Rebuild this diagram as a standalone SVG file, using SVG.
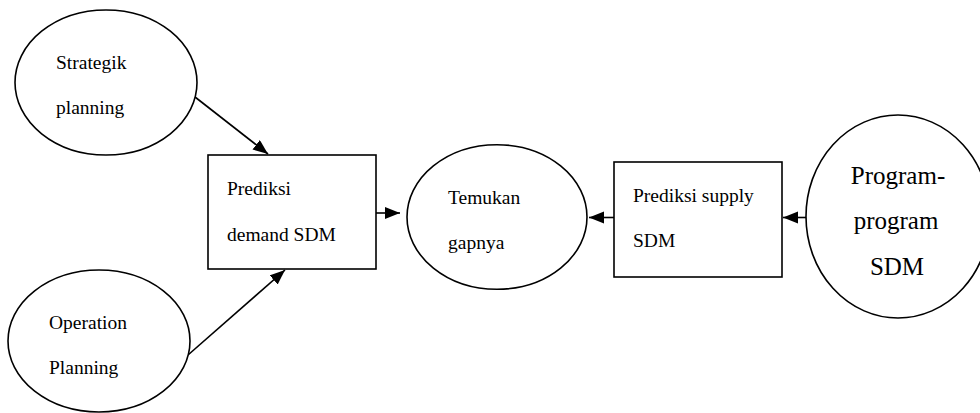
<svg xmlns="http://www.w3.org/2000/svg" width="980" height="413" viewBox="0 0 980 413">
  <style>
    .shape { fill: #ffffff; stroke: #000000; stroke-width: 1.6; }
    .label { font-family: "Liberation Serif", "Times New Roman", serif; font-size: 19.5px; fill: #000000; }
    .big { font-size: 25px; }
    .edge { stroke: #000000; stroke-width: 1.6; fill: none; marker-end: url(#arrow); }
  </style>
  <defs>
    <marker id="arrow" markerUnits="userSpaceOnUse" markerWidth="16" markerHeight="13" refX="15" refY="6" orient="auto">
      <path d="M0,0 L15,6 L0,12 z" fill="#000000"/>
    </marker>
  </defs>

  <rect width="980" height="413" fill="#ffffff"/>

  <g id="connectors">
    <line class="edge" x1="195" y1="97" x2="268" y2="154"/>
    <line class="edge" x1="188" y1="355" x2="285" y2="270"/>
    <line class="edge" x1="376" y1="213" x2="400" y2="213"/>
    <line class="edge" x1="614" y1="217.5" x2="589" y2="217.5"/>
    <line class="edge" x1="806" y1="217.5" x2="783" y2="217.5"/>
  </g>

  <g id="strategik-planning">
    <ellipse class="shape" cx="106" cy="82.5" rx="91" ry="72.5"/>
    <text class="label" x="56" y="69">Strategik</text>
    <text class="label" x="56" y="114">planning</text>
  </g>

  <g id="operation-planning">
    <ellipse class="shape" cx="99" cy="341" rx="91" ry="71"/>
    <text class="label" x="49" y="329">Operation</text>
    <text class="label" x="49" y="374">Planning</text>
  </g>

  <g id="prediksi-demand">
    <rect class="shape" x="208" y="155" width="168" height="114"/>
    <text class="label" x="227" y="195">Prediksi</text>
    <text class="label" x="227" y="241">demand SDM</text>
  </g>

  <g id="temukan-gapnya">
    <ellipse class="shape" cx="497" cy="217" rx="90" ry="72.3"/>
    <text class="label" x="448" y="204">Temukan</text>
    <text class="label" x="448" y="249">gapnya</text>
  </g>

  <g id="prediksi-supply">
    <rect class="shape" x="614" y="162" width="168" height="115"/>
    <text class="label" x="633" y="202">Prediksi supply</text>
    <text class="label" x="633" y="247">SDM</text>
  </g>

  <g id="program-sdm">
    <ellipse class="shape" cx="898" cy="216.5" rx="92" ry="101.5"/>
    <text class="label big" x="898" y="184" text-anchor="middle">Program-</text>
    <text class="label big" x="896" y="229" text-anchor="middle">program</text>
    <text class="label big" x="897" y="275" text-anchor="middle">SDM</text>
  </g>
</svg>
